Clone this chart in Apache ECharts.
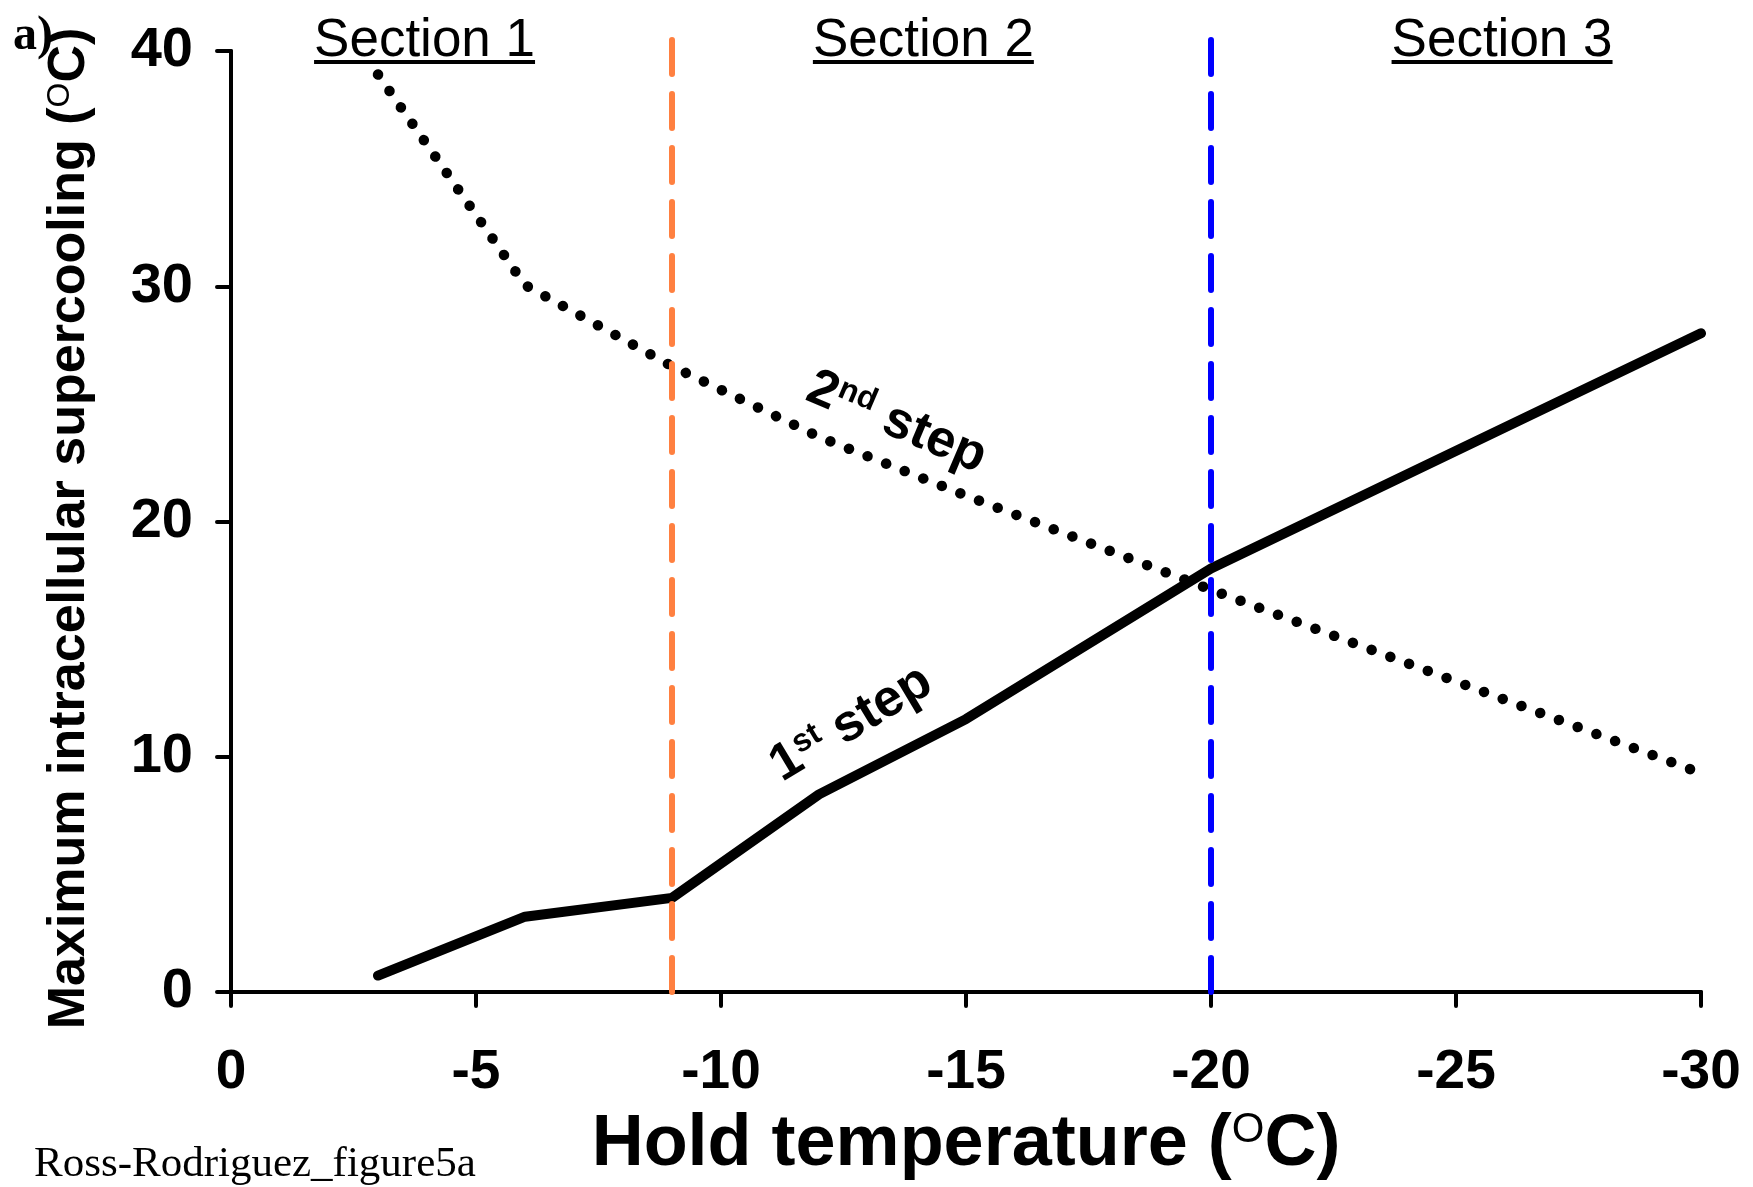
<!DOCTYPE html>
<html>
<head>
<meta charset="utf-8">
<script src="https://cdn.jsdelivr.net/npm/echarts@6/dist/echarts.min.js"></script>
<style>
  html, body { margin: 0; padding: 0; background: #ffffff; }
  #chart { width: 1753px; height: 1187px; }
</style>
</head>
<body>
<div id="chart"></div>
<script>
// Hold temperatures (°C) and the maximum intracellular supercooling for each step
const holdTemps  = [-3, -6, -9, -12, -15, -20, -30];
const firstStep  = [0.7, 3.2, 4.0, 8.4, 11.6, 18.0, 28.0];
const secondStep = [39.0, 30.05, 26.6, 23.6, 21.1, 17.1, 9.3];

// Section boundaries (vertical dashed lines)
const dividerTemps  = [-9, -20];
const dividerTops   = [40.7, 40.8];
const dividerColors = ['#FF8040', '#0000FF'];

// Section headings and their centre temperatures
const sectionNames   = ['Section 1', 'Section 2', 'Section 3'];
const sectionCenters = [-3.95, -14.13, -25.94];

const SANS  = '"Liberation Sans", Arial, Helvetica, sans-serif';
const SERIF = '"Liberation Serif", "Times New Roman", Times, serif';

const chart = echarts.init(document.getElementById('chart'), null, { renderer: 'canvas' });

const pairs = (xs, ys) => xs.map((x, i) => [x, ys[i]]);

const dividerSeries = dividerTemps.map((t, i) => ({
  type: 'line',
  data: [[t, 0], [t, dividerTops[i]]],
  symbol: 'none',
  clip: false,
  z: 5,
  lineStyle: { color: dividerColors[i], width: 6, type: [34, 20], cap: 'round' },
  silent: true,
  animation: false
}));

const option = {
  backgroundColor: '#ffffff',
  animation: false,
  grid: { left: 231, right: 52, top: 51, bottom: 195, containLabel: false, outerBoundsMode: 'none' },
  xAxis: {
    type: 'value',
    min: -30, max: 0, interval: 5,
    inverse: true,
    axisLine: { onZero: false, lineStyle: { color: '#000', width: 4, cap: 'round' } },
    axisTick: { length: 14, lineStyle: { color: '#000', width: 4, cap: 'round' } },
    splitLine: { show: false },
    axisLabel: { margin: 53, color: '#000', fontSize: 55, fontWeight: 'bold', fontFamily: SANS },
    name: '{a|Hold temperature (}{s|O}{a|C)}',
    nameLocation: 'middle',
    nameGap: 117,
    nameTextStyle: {
      rich: {
        a: { fontSize: 72, fontWeight: 'bold', fontFamily: SANS, color: '#000' },
        s: { fontSize: 42, fontWeight: 'normal', fontFamily: SANS, color: '#000', lineHeight: 30, verticalAlign: 'top' }
      }
    }
  },
  yAxis: {
    type: 'value',
    min: 0, max: 40, interval: 10,
    axisLine: { onZero: false, lineStyle: { color: '#000', width: 4, cap: 'round' } },
    axisTick: { length: 14, lineStyle: { color: '#000', width: 4, cap: 'round' } },
    splitLine: { show: false },
    axisLabel: { margin: 38, color: '#000', fontSize: 56, fontWeight: 'bold', fontFamily: SANS },
    name: '{a|Maximum intracellular supercooling (}{s|O}{a|C)}',
    nameLocation: 'middle',
    nameGap: 135,
    nameTextStyle: {
      padding: [0, 14, 0, 0],
      rich: {
        a: { fontSize: 52, fontWeight: 'bold', fontFamily: SANS, color: '#000' },
        s: { fontSize: 32, fontWeight: 'normal', fontFamily: SANS, color: '#000', lineHeight: 22, verticalAlign: 'top' }
      }
    }
  },
  series: [
    {
      name: '1st step',
      type: 'line',
      data: pairs(holdTemps, firstStep),
      symbol: 'none',
      z: 3,
      lineStyle: { color: '#000', width: 10, cap: 'round', join: 'round' }
    },
    {
      name: '2nd step',
      type: 'line',
      data: pairs(holdTemps, secondStep),
      symbol: 'none',
      z: 3,
      lineStyle: { color: '#000', width: 10.5, type: [0.1, 19.9], cap: 'round', join: 'round' }
    },
    ...dividerSeries
  ]
};

chart.setOption(option);

// Annotations placed in data coordinates
const toPx = p => chart.convertToPixel({ gridIndex: 0 }, p);
const measure = (() => {
  const ctx = document.createElement('canvas').getContext('2d');
  return (text, font) => { ctx.font = font; return ctx.measureText(text).width; };
})();

const graphics = [];

// Section headings with underline
const headFont = '53px ' + SANS;
sectionNames.forEach((name, i) => {
  const [cx, cy] = toPx([sectionCenters[i], 40.42]);
  const w = measure(name, headFont);
  graphics.push({
    type: 'text', x: cx, y: cy, silent: true,
    style: { text: name, fill: '#000', font: headFont, align: 'center', verticalAlign: 'middle' }
  });
  graphics.push({
    type: 'line', silent: true,
    shape: { x1: cx - w / 2, y1: cy + 21, x2: cx + w / 2, y2: cy + 21 },
    style: { stroke: '#000', lineWidth: 4 }
  });
});

// Step labels along the curves
const stepRich = {
  b: { fontSize: 52, fontWeight: 'bold', fontFamily: SANS, fill: '#000' },
  s: { fontSize: 32, fontWeight: 'bold', fontFamily: SANS, fill: '#000', lineHeight: 28, verticalAlign: 'top' }
};
const step2 = toPx([-13.58, 24.2]);
graphics.push({
  type: 'text', x: step2[0], y: step2[1], rotation: -23 * Math.PI / 180, silent: true,
  style: { text: '{b|2}{s|nd}{b| step}', rich: stepRich, align: 'center', verticalAlign: 'middle' }
});
const step1 = toPx([-12.66, 11.4]);
graphics.push({
  type: 'text', x: step1[0], y: step1[1], rotation: 31 * Math.PI / 180, silent: true,
  style: { text: '{b|1}{s|st}{b| step}', rich: stepRich, align: 'center', verticalAlign: 'middle' }
});

// Panel letter and figure tag
graphics.push({
  type: 'text', left: 13, top: 13, silent: true,
  style: { text: 'a)', fill: '#000', font: 'bold 48px ' + SERIF }
});
graphics.push({
  type: 'text', left: 34, top: 1143, silent: true,
  style: { text: 'Ross-Rodriguez_figure5a', fill: '#000', font: '43px ' + SERIF }
});

chart.setOption({ graphic: graphics });
</script>
</body>
</html>
